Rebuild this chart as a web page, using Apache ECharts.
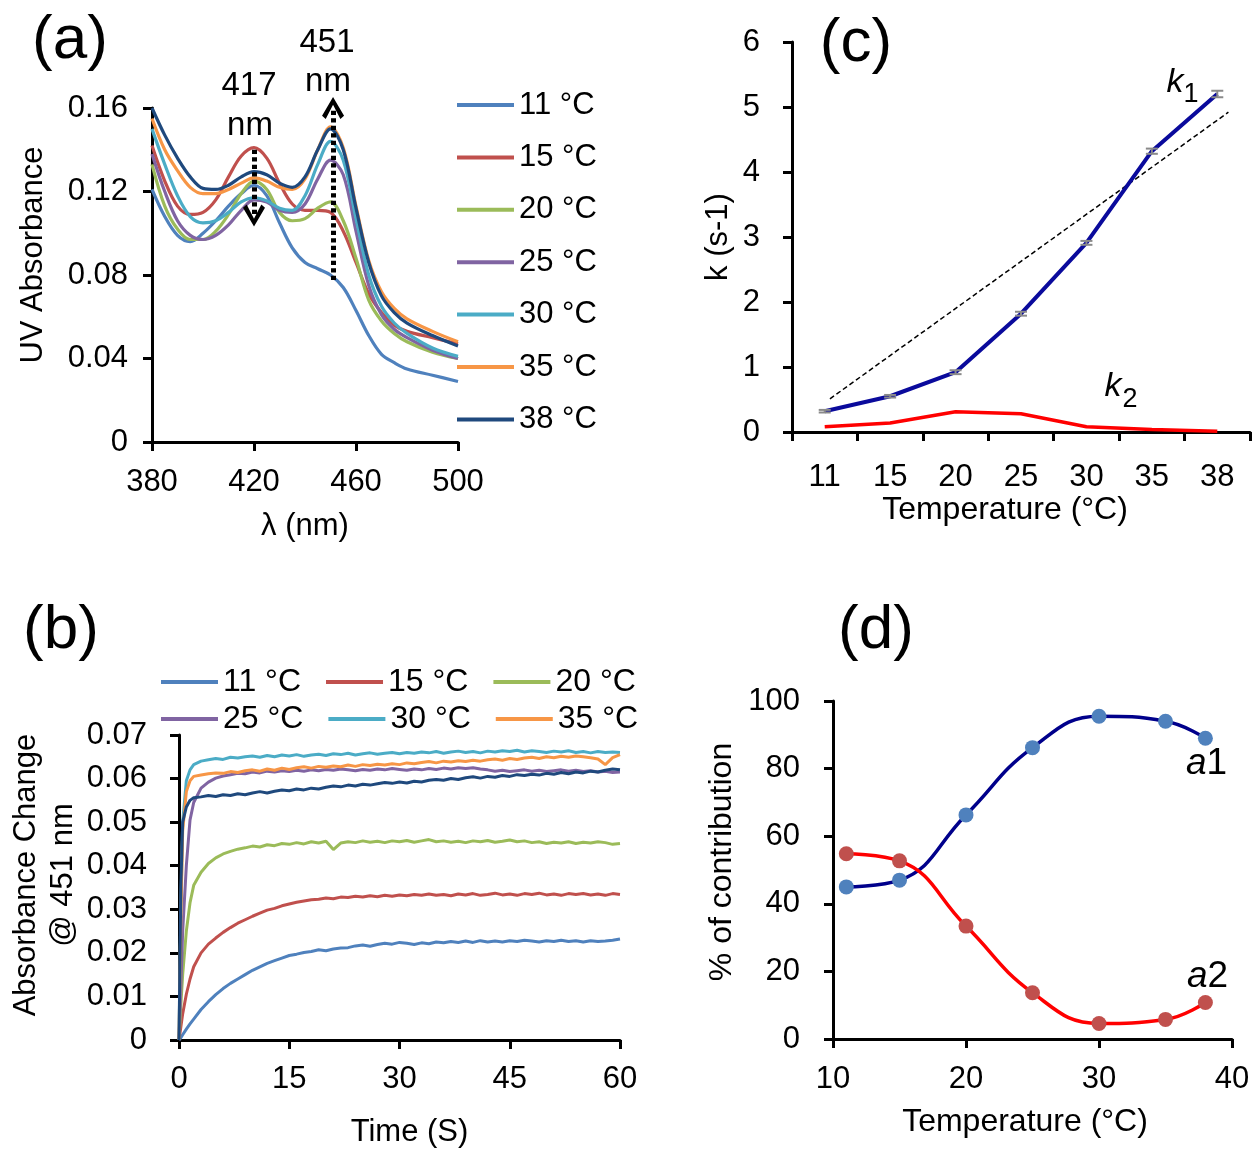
<!DOCTYPE html>
<html>
<head>
<meta charset="utf-8">
<script src="https://cdn.jsdelivr.net/npm/echarts@6/dist/echarts.min.js"></script>
<style>
html,body{margin:0;padding:0;background:#fff;}
#chart{width:1260px;height:1161px;}
</style>
</head>
<body>
<div id="chart"></div>
<script>
// ---------- Panel (a): UV spectra ----------
const seriesNames = ['11 °C','15 °C','20 °C','25 °C','30 °C','35 °C','38 °C'];
const lambda = [380,385,390,395,400,405,410,415,420,425,430,435,440,445,450,455,460,465,470,475,480,490,500];
const abs11 = [0.121,0.108,0.099,0.096,0.100,0.106,0.113,0.119,0.123,0.118,0.105,0.093,0.086,0.083,0.080,0.074,0.063,0.051,0.042,0.038,0.035,0.032,0.029];
const abs15 = [0.142,0.125,0.113,0.109,0.110,0.116,0.127,0.137,0.141,0.136,0.124,0.114,0.111,0.111,0.110,0.101,0.086,0.071,0.062,0.056,0.053,0.050,0.047];
const abs20 = [0.133,0.113,0.102,0.097,0.097,0.101,0.109,0.119,0.125,0.121,0.110,0.106,0.107,0.112,0.115,0.106,0.088,0.068,0.058,0.052,0.048,0.043,0.040];
const abs25 = [0.138,0.120,0.106,0.099,0.097,0.099,0.104,0.111,0.116,0.115,0.111,0.110,0.114,0.126,0.135,0.128,0.101,0.075,0.061,0.054,0.050,0.044,0.040];
const abs30 = [0.150,0.133,0.118,0.108,0.105,0.106,0.110,0.115,0.117,0.1155,0.112,0.111,0.118,0.133,0.144,0.135,0.107,0.080,0.065,0.057,0.052,0.045,0.041];
const abs35 = [0.155,0.140,0.130,0.122,0.119,0.119,0.121,0.124,0.1265,0.125,0.122,0.121,0.126,0.140,0.151,0.141,0.113,0.087,0.072,0.064,0.059,0.053,0.048];
const abs38 = [0.160,0.147,0.136,0.127,0.1215,0.121,0.123,0.127,0.1295,0.128,0.124,0.122,0.127,0.140,0.150,0.140,0.112,0.086,0.070,0.062,0.057,0.051,0.046];
const absA = [abs11,abs15,abs20,abs25,abs30,abs35,abs38];

// ---------- Panel (b): kinetics at 451 nm ----------
const timeB = [0,0.25,0.5,1,1.5,2,3,4,5,6,7,8,9,10,11,12,13,14,15,16,17,18,19,20,21,22,23,24,25,26,27,28,29,30,31,32,33,34,35,36,37,38,39,40,41,42,43,44,45,46,47,48,49,50,51,52,53,54,55,56,57,58,59,60];
const b11 = [0,0.0005,0.0012,0.0025,0.0037,0.0048,
 0.0070,0.0088,0.0104,0.0118,0.0130,0.0140,0.0150,0.0160,0.0168,0.0176,
 0.0182,0.0188,0.0194,0.0197,0.0201,0.0203,0.0207,0.0205,0.0209,0.0211,
 0.0212,0.0216,0.0218,0.0215,0.0219,0.0222,0.0220,0.0224,0.0222,0.0219,
 0.0223,0.0221,0.0225,0.0223,0.0226,0.0224,0.0227,0.0224,0.0228,0.0225,
 0.0227,0.0225,0.0228,0.0226,0.0229,0.0227,0.0225,0.0228,0.0226,0.0229,
 0.0226,0.0228,0.0225,0.0228,0.0226,0.0227,0.0229,0.0232];
const b15 = [0,0.003,0.006,0.0105,0.0140,0.0168,
 0.0200,0.0220,0.0234,0.0247,0.0258,0.0268,0.0276,0.0284,0.0291,0.0298,
 0.0302,0.0308,0.0312,0.0316,0.0319,0.0322,0.0323,0.0326,0.0324,0.0328,
 0.0327,0.0330,0.0328,0.0331,0.0329,0.0332,0.0330,0.0333,0.0331,0.0334,
 0.0332,0.0335,0.0332,0.0334,0.0331,0.0335,0.0333,0.0336,0.0332,0.0334,
 0.0337,0.0333,0.0335,0.0332,0.0336,0.0334,0.0337,0.0333,0.0335,0.0332,
 0.0336,0.0334,0.0336,0.0333,0.0335,0.0332,0.0336,0.0334];
const b20 = [0,0.008,0.015,0.025,0.0315,0.0355,
 0.0385,0.0405,0.0418,0.0427,0.0433,0.0438,0.0441,0.0445,0.0443,0.0448,
 0.0446,0.0451,0.0449,0.0453,0.0450,0.0455,0.0452,0.0456,0.0437,0.0452,
 0.0455,0.0453,0.0457,0.0454,0.0456,0.0453,0.0457,0.0455,0.0458,0.0454,
 0.0457,0.0460,0.0455,0.0457,0.0454,0.0456,0.0453,0.0457,0.0455,0.0458,
 0.0454,0.0456,0.0459,0.0455,0.0457,0.0453,0.0455,0.0451,0.0454,0.0452,
 0.0455,0.0451,0.0454,0.0452,0.0455,0.0453,0.0449,0.0451];
const b25 = [0,0.012,0.025,0.040,0.0505,0.0545,
 0.0578,0.0592,0.0601,0.0606,0.0609,0.0612,0.0611,0.0615,0.0613,0.0617,
 0.0615,0.0618,0.0616,0.0619,0.0617,0.0620,0.0618,0.0621,0.0619,0.0622,
 0.0620,0.0618,0.0621,0.0619,0.0622,0.0620,0.0623,0.0621,0.0619,0.0622,
 0.0620,0.0623,0.0621,0.0624,0.0622,0.0625,0.0623,0.0625,0.0622,0.0620,
 0.0617,0.0619,0.0616,0.0618,0.0620,0.0617,0.0619,0.0616,0.0618,0.0620,
 0.0617,0.0619,0.0616,0.0618,0.0615,0.0617,0.0614,0.0615];
const b30 = [0,0.030,0.050,0.0595,0.0620,0.0632,
 0.0640,0.0643,0.0646,0.0644,0.0649,0.0647,0.0650,0.0652,0.0649,0.0653,
 0.0650,0.0654,0.0652,0.0655,0.0651,0.0654,0.0656,0.0653,0.0657,0.0655,
 0.0658,0.0654,0.0657,0.0659,0.0656,0.0658,0.0660,0.0657,0.0660,0.0658,
 0.0661,0.0659,0.0662,0.0658,0.0661,0.0663,0.0660,0.0662,0.0659,0.0663,
 0.0661,0.0664,0.0662,0.0665,0.0661,0.0664,0.0662,0.0660,0.0663,0.0661,
 0.0664,0.0660,0.0662,0.0659,0.0662,0.0660,0.0661,0.0660];
const b35 = [0,0.028,0.048,0.0570,0.0595,0.0605,
 0.0608,0.0611,0.0613,0.0612,0.0616,0.0614,0.0618,0.0620,0.0617,0.0622,
 0.0619,0.0624,0.0621,0.0625,0.0627,0.0624,0.0628,0.0626,0.0629,0.0627,
 0.0631,0.0628,0.0632,0.0630,0.0633,0.0631,0.0634,0.0632,0.0636,0.0634,
 0.0637,0.0639,0.0636,0.0640,0.0638,0.0641,0.0639,0.0642,0.0640,0.0643,
 0.0645,0.0642,0.0646,0.0644,0.0647,0.0649,0.0646,0.0650,0.0648,0.0651,
 0.0649,0.0652,0.0650,0.0648,0.0645,0.0632,0.0648,0.0655];
const b38 = [0,0.035,0.050,0.0535,0.0550,0.0556,
 0.0558,0.0561,0.0559,0.0563,0.0561,0.0565,0.0563,0.0567,0.0570,0.0567,
 0.0571,0.0574,0.0572,0.0576,0.0574,0.0578,0.0576,0.0580,0.0583,0.0581,
 0.0585,0.0583,0.0587,0.0585,0.0588,0.0591,0.0589,0.0592,0.0590,0.0594,
 0.0592,0.0596,0.0598,0.0596,0.0600,0.0598,0.0602,0.0604,0.0601,0.0605,
 0.0603,0.0607,0.0605,0.0609,0.0607,0.0610,0.0608,0.0612,0.0610,0.0614,
 0.0611,0.0615,0.0613,0.0617,0.0615,0.0619,0.0622,0.0620];
const absB = [b11,b15,b20,b25,b30,b35,b38];

// ---------- Panel (c): rate constants ----------
const tempCats = ['11','15','20','25','30','35','38'];
const k1 = [0.32,0.55,0.92,1.82,2.91,4.32,5.20];
const k1Err = [0.02,0.02,0.03,0.03,0.03,0.04,0.05];
const k2 = [0.08,0.14,0.31,0.28,0.08,0.04,0.01];
const trendPos = [0.08,6.17];      // position along category axis (index)
const trendVal = [0.51,4.92];

// ---------- Panel (d): contributions ----------
const tempD = [11,15,20,25,30,35,38];
const a1 = [45,47,66.3,86.2,95.5,94,89];
const a2 = [54.8,52.7,33.4,13.7,4.6,5.8,10.8];

const colors = ['#4F81BD','#C0504D','#9BBB59','#8064A2','#4BACC6','#F79646','#1F497D'];
const FONT = '"Liberation Sans", Arial, sans-serif';

function axis(extra, labelMargin, labelSize){
  return Object.assign({
    axisLine:{show:true,onZero:false,lineStyle:{color:'#000',width:3}},
    axisTick:{show:true,length:9,lineStyle:{color:'#000',width:3}},
    axisLabel:{color:'#000',fontSize:labelSize||31,fontFamily:FONT,margin:labelMargin},
    splitLine:{show:false},
    nameLocation:'middle',
    nameTextStyle:{color:'#000',fontSize:31,fontFamily:FONT}
  }, extra);
}

const chevron = 'path://M12,0 L24,17 L20,20 L12,7 L4,20 L0,17 Z';

const series = [];
seriesNames.forEach((n,i)=>{
  const s = {
    name:n, type:'line', xAxisIndex:0, yAxisIndex:0,
    data: lambda.map((l,j)=>[l, absA[i][j]]),
    smooth:0.35, showSymbol:false, symbol:'none',
    lineStyle:{width:3.2,color:colors[i]}, itemStyle:{color:colors[i]}, z:2
  };
  if (i === seriesNames.length-1) {
    s.markLine = {
      silent:true, symbol:['none', chevron], symbolSize:[22,22],
      label:{show:false},
      lineStyle:{color:'#000',width:5,type:[4.3,3.2],cap:'butt'},
      data:[
        [{coord:[420,0.140]},{coord:[420,0.1085]}],
        [{coord:[451,0.0776]},{coord:[451,0.160]}]
      ],
      z:10
    };
  }
  series.push(s);
});
seriesNames.forEach((n,i)=>{
  series.push({
    name:n, type:'line', xAxisIndex:1, yAxisIndex:1,
    data: timeB.map((t,j)=>[t, absB[i][j]]),
    showSymbol:false, symbol:'none',
    lineStyle:{width:3,color:colors[i]}, itemStyle:{color:colors[i]}, z:2
  });
});
// panel c
series.push({
  name:'trend', type:'line', xAxisIndex:4, yAxisIndex:2,
  data: trendPos.map((p,j)=>[p, trendVal[j]]),
  showSymbol:false, symbol:'none',
  lineStyle:{color:'#000',width:1.5,type:[5,3]}, z:1
});
series.push({
  name:'k1', type:'line', xAxisIndex:2, yAxisIndex:2, data:k1,
  showSymbol:false, symbol:'none',
  lineStyle:{color:'#0A0A9C',width:4}, z:2
});
series.push({
  name:'k1 err', type:'custom', xAxisIndex:2, yAxisIndex:2,
  data: k1.map((v,i)=>[i, v-k1Err[i], v+k1Err[i]]),
  encode:{x:0,y:[1,2]},
  renderItem:function(params, api){
    const x = api.value(0);
    const p1 = api.coord([x, api.value(1)]);
    const p2 = api.coord([x, api.value(2)]);
    const w = 6, st = {stroke:'#8a8a8a', lineWidth:2};
    return {type:'group', children:[
      {type:'line', shape:{x1:p1[0],y1:p1[1],x2:p2[0],y2:p2[1]}, style:st},
      {type:'line', shape:{x1:p1[0]-w,y1:p1[1],x2:p1[0]+w,y2:p1[1]}, style:st},
      {type:'line', shape:{x1:p2[0]-w,y1:p2[1],x2:p2[0]+w,y2:p2[1]}, style:st}
    ]};
  }, z:3
});
series.push({
  name:'k2', type:'line', xAxisIndex:2, yAxisIndex:2, data:k2,
  showSymbol:false, symbol:'none',
  lineStyle:{color:'#FF0000',width:3.5}, z:2
});
// panel d
series.push({
  name:'a1', type:'line', xAxisIndex:3, yAxisIndex:3,
  data: tempD.map((t,i)=>[t, a1[i]]), smooth:0.45,
  symbol:'circle', symbolSize:15, showSymbol:true,
  lineStyle:{color:'#00008B',width:3.5}, itemStyle:{color:'#4F81BD'}, z:2
});
series.push({
  name:'a2', type:'line', xAxisIndex:3, yAxisIndex:3,
  data: tempD.map((t,i)=>[t, a2[i]]), smooth:0.45,
  symbol:'circle', symbolSize:15, showSymbol:true,
  lineStyle:{color:'#FF0000',width:3.5}, itemStyle:{color:'#C0504D'}, z:2
});

function txt(text, x, y, size, extra){
  return {type:'text', x:x, y:y, z:20, style:Object.assign({
    text:text, fill:'#000', font:size+'px '+FONT, textAlign:'center', textVerticalAlign:'middle'
  }, extra||{})};
}

const legendText = {color:'#000',fontSize:31,fontFamily:FONT,lineHeight:32};

const option = {
  animation:false,
  backgroundColor:'#fff',
  grid:[
    {left:152, top:108, width:306, height:334},
    {left:179, top:735, width:441, height:305},
    {left:792, top:42, width:458, height:390},
    {left:833, top:701, width:399, height:338}
  ],
  legend:[
    {orient:'vertical', left:452, top:84, itemGap:20.4, itemWidth:57, itemHeight:4, icon:'rect',
     data:seriesNames, textStyle:legendText, selectedMode:false},
    {orient:'horizontal', left:156, top:661, itemGap:25, itemWidth:57, itemHeight:4, icon:'rect',
     data:seriesNames.slice(0,3), textStyle:Object.assign({},legendText,{fontSize:32}), selectedMode:false},
    {orient:'horizontal', left:156, top:698, itemGap:25, itemWidth:57, itemHeight:4, icon:'rect',
     data:seriesNames.slice(3,6), textStyle:Object.assign({},legendText,{fontSize:32}), selectedMode:false}
  ],
  xAxis:[
    axis({gridIndex:0, type:'value', min:380, max:500, interval:40, name:'λ (nm)', nameGap:69}, 25),
    axis({gridIndex:1, type:'value', min:0, max:60, interval:15, name:'Time (S)', nameGap:77,
          nameTextStyle:{color:'#000',fontSize:31,fontFamily:FONT,padding:[0,0,0,20]}}, 24),
    axis({gridIndex:2, type:'category', data:tempCats, boundaryGap:true, name:'Temperature (°C)', nameGap:60,
          nameTextStyle:{color:'#000',fontSize:32,fontFamily:FONT,padding:[0,32,0,0]}}, 30),
    axis({gridIndex:3, type:'value', min:10, max:40, interval:10, name:'Temperature (°C)', nameGap:67,
          nameTextStyle:{color:'#000',fontSize:32,fontFamily:FONT,padding:[0,15,0,0]}}, 25),
    {gridIndex:2, type:'value', min:-0.5, max:6.5, show:false}
  ],
  yAxis:[
    axis({gridIndex:0, type:'value', min:0, max:0.16, interval:0.04, name:'UV Absorbance', nameGap:103,
          nameTextStyle:{color:'#000',fontSize:31,fontFamily:FONT,padding:[0,0,0,40]}}, 24),
    axis({gridIndex:1, type:'value', min:0, max:0.07, interval:0.01, name:'Absorbance Change\n@ 451 nm', nameGap:97,
          nameTextStyle:{color:'#000',fontSize:31,fontFamily:FONT,lineHeight:37,padding:[0,0,0,25]}}, 32),
    axis({gridIndex:2, type:'value', min:0, max:6, interval:1, name:'k (s-1)', nameGap:58}, 32),
    axis({gridIndex:3, type:'value', min:0, max:100, interval:20, name:'% of contribution', nameGap:95,
          nameTextStyle:{color:'#000',fontSize:32,fontFamily:FONT,padding:[0,0,0,16]}}, 33)
  ],
  series:series,
  graphic:[
    txt('(a)', 70, 41, 62),
    txt('(b)', 61, 631, 62),
    txt('(c)', 856, 44, 62),
    txt('(d)', 876, 631, 62),
    txt('417', 249, 86, 33),
    txt('nm', 250, 126, 33),
    txt('451', 327, 43, 33),
    txt('nm', 328, 82, 33),
    txt('k', 1175, 83, 34, {font:'italic 34px '+FONT}),
    txt('1', 1191, 95, 27),
    txt('k', 1113, 387, 34, {font:'italic 34px '+FONT}),
    txt('2', 1130, 400, 27),
    {type:'text', x:1186, y:764, z:20, style:{text:'{i|a}{n|1}', textVerticalAlign:'middle', fill:'#000',
      rich:{i:{fontStyle:'italic',fontSize:37,fontFamily:FONT,fill:'#000'}, n:{fontSize:37,fontFamily:FONT,fill:'#000'}}}},
    {type:'text', x:1187, y:977, z:20, style:{text:'{i|a}{n|2}', textVerticalAlign:'middle', fill:'#000',
      rich:{i:{fontStyle:'italic',fontSize:37,fontFamily:FONT,fill:'#000'}, n:{fontSize:37,fontFamily:FONT,fill:'#000'}}}}
  ]
};

const chart = echarts.init(document.getElementById('chart'), null, {renderer:'canvas'});
chart.setOption(option);
</script>
</body>
</html>
